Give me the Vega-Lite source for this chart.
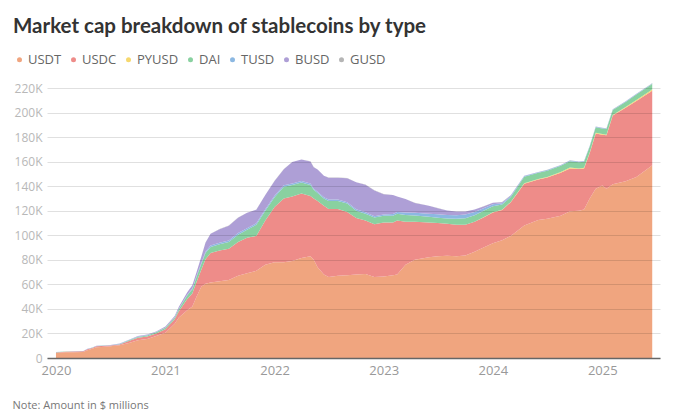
{
  "$schema": "https://vega.github.io/schema/vega-lite/v6.json",
  "width": 613,
  "height": 270,
  "autosize": {"type": "none"},
  "padding": {"left": 47, "top": 88, "right": 20, "bottom": 58},
  "background": "white",
  "config": {"view": {"stroke": null}, "font": "Open Sans"},
  "title": {
    "text": "Market cap breakdown of stablecoins by type",
    "anchor": "start",
    "frame": "group",
    "dx": -34,
    "offset": 16,
    "font": "Lato",
    "fontSize": 20.5,
    "fontWeight": "bold",
    "color": "#333333"
  },
  "datasets": {
    "coins": [
      {"coin": "USDT", "rank": 1},
      {"coin": "USDC", "rank": 2},
      {"coin": "PYUSD", "rank": 3},
      {"coin": "DAI", "rank": 4},
      {"coin": "TUSD", "rank": 5},
      {"coin": "BUSD", "rank": 6},
      {"coin": "GUSD", "rank": 7}
    ]
  },
  "data": {
    "values": [
      {"d": "2020-01-01", "USDT": 4100, "USDC": 450, "PYUSD": 0, "DAI": 100, "TUSD": 150, "BUSD": 20, "GUSD": 10},
      {"d": "2020-02-01", "USDT": 4600, "USDC": 500, "PYUSD": 0, "DAI": 100, "TUSD": 150, "BUSD": 20, "GUSD": 10},
      {"d": "2020-03-01", "USDT": 4700, "USDC": 550, "PYUSD": 0, "DAI": 120, "TUSD": 160, "BUSD": 30, "GUSD": 10},
      {"d": "2020-04-01", "USDT": 4800, "USDC": 600, "PYUSD": 0, "DAI": 120, "TUSD": 160, "BUSD": 40, "GUSD": 10},
      {"d": "2020-04-15", "USDT": 6400, "USDC": 700, "PYUSD": 0, "DAI": 130, "TUSD": 170, "BUSD": 60, "GUSD": 10},
      {"d": "2020-05-01", "USDT": 7500, "USDC": 700, "PYUSD": 0, "DAI": 140, "TUSD": 180, "BUSD": 80, "GUSD": 10},
      {"d": "2020-05-15", "USDT": 8800, "USDC": 720, "PYUSD": 0, "DAI": 140, "TUSD": 180, "BUSD": 100, "GUSD": 10},
      {"d": "2020-06-01", "USDT": 9000, "USDC": 750, "PYUSD": 0, "DAI": 150, "TUSD": 200, "BUSD": 120, "GUSD": 10},
      {"d": "2020-07-01", "USDT": 9600, "USDC": 500, "PYUSD": 0, "DAI": 160, "TUSD": 200, "BUSD": 150, "GUSD": 10},
      {"d": "2020-08-01", "USDT": 10300, "USDC": 700, "PYUSD": 0, "DAI": 300, "TUSD": 300, "BUSD": 170, "GUSD": 10},
      {"d": "2020-09-01", "USDT": 12300, "USDC": 1500, "PYUSD": 0, "DAI": 600, "TUSD": 350, "BUSD": 200, "GUSD": 10},
      {"d": "2020-10-01", "USDT": 14500, "USDC": 2000, "PYUSD": 0, "DAI": 700, "TUSD": 400, "BUSD": 250, "GUSD": 10},
      {"d": "2020-11-01", "USDT": 15500, "USDC": 2100, "PYUSD": 0, "DAI": 800, "TUSD": 400, "BUSD": 300, "GUSD": 10},
      {"d": "2020-12-01", "USDT": 18000, "USDC": 2000, "PYUSD": 0, "DAI": 900, "TUSD": 300, "BUSD": 400, "GUSD": 10},
      {"d": "2021-01-01", "USDT": 20500, "USDC": 3000, "PYUSD": 0, "DAI": 1100, "TUSD": 300, "BUSD": 700, "GUSD": 20},
      {"d": "2021-02-01", "USDT": 28000, "USDC": 3500, "PYUSD": 0, "DAI": 1300, "TUSD": 350, "BUSD": 1000, "GUSD": 20},
      {"d": "2021-02-15", "USDT": 33000, "USDC": 5000, "PYUSD": 0, "DAI": 1900, "TUSD": 400, "BUSD": 1500, "GUSD": 30},
      {"d": "2021-03-15", "USDT": 39000, "USDC": 9000, "PYUSD": 0, "DAI": 2900, "TUSD": 600, "BUSD": 2000, "GUSD": 50},
      {"d": "2021-04-01", "USDT": 42000, "USDC": 10500, "PYUSD": 0, "DAI": 3500, "TUSD": 700, "BUSD": 2500, "GUSD": 60},
      {"d": "2021-04-15", "USDT": 50000, "USDC": 12000, "PYUSD": 0, "DAI": 4000, "TUSD": 800, "BUSD": 3000, "GUSD": 80},
      {"d": "2021-05-01", "USDT": 58000, "USDC": 14000, "PYUSD": 0, "DAI": 4500, "TUSD": 900, "BUSD": 5000, "GUSD": 100},
      {"d": "2021-05-15", "USDT": 60500, "USDC": 20000, "PYUSD": 0, "DAI": 5000, "TUSD": 1000, "BUSD": 7500, "GUSD": 100},
      {"d": "2021-06-01", "USDT": 61500, "USDC": 24000, "PYUSD": 0, "DAI": 5000, "TUSD": 1200, "BUSD": 9500, "GUSD": 100},
      {"d": "2021-07-01", "USDT": 62500, "USDC": 25000, "PYUSD": 0, "DAI": 5200, "TUSD": 1300, "BUSD": 11000, "GUSD": 100},
      {"d": "2021-08-01", "USDT": 63500, "USDC": 25500, "PYUSD": 0, "DAI": 5500, "TUSD": 1300, "BUSD": 12000, "GUSD": 100},
      {"d": "2021-09-01", "USDT": 67000, "USDC": 27500, "PYUSD": 0, "DAI": 6000, "TUSD": 1300, "BUSD": 12500, "GUSD": 100},
      {"d": "2021-10-01", "USDT": 69000, "USDC": 29000, "PYUSD": 0, "DAI": 6500, "TUSD": 1300, "BUSD": 12500, "GUSD": 100},
      {"d": "2021-11-01", "USDT": 71000, "USDC": 28500, "PYUSD": 0, "DAI": 9000, "TUSD": 1300, "BUSD": 11000, "GUSD": 100},
      {"d": "2021-12-01", "USDT": 76000, "USDC": 36000, "PYUSD": 0, "DAI": 8000, "TUSD": 1300, "BUSD": 11500, "GUSD": 100},
      {"d": "2022-01-01", "USDT": 78000, "USDC": 45000, "PYUSD": 0, "DAI": 8000, "TUSD": 1300, "BUSD": 12000, "GUSD": 100},
      {"d": "2022-02-01", "USDT": 78000, "USDC": 52000, "PYUSD": 0, "DAI": 9500, "TUSD": 1300, "BUSD": 13000, "GUSD": 100},
      {"d": "2022-03-01", "USDT": 79000, "USDC": 52500, "PYUSD": 0, "DAI": 9500, "TUSD": 1200, "BUSD": 17500, "GUSD": 100},
      {"d": "2022-04-01", "USDT": 81500, "USDC": 52500, "PYUSD": 0, "DAI": 9000, "TUSD": 1200, "BUSD": 17500, "GUSD": 100},
      {"d": "2022-05-01", "USDT": 83000, "USDC": 49000, "PYUSD": 0, "DAI": 9000, "TUSD": 1200, "BUSD": 18000, "GUSD": 100},
      {"d": "2022-05-12", "USDT": 80000, "USDC": 50000, "PYUSD": 0, "DAI": 7000, "TUSD": 1000, "BUSD": 17500, "GUSD": 100},
      {"d": "2022-05-25", "USDT": 74000, "USDC": 54000, "PYUSD": 0, "DAI": 6500, "TUSD": 1000, "BUSD": 18000, "GUSD": 100},
      {"d": "2022-06-15", "USDT": 68000, "USDC": 56000, "PYUSD": 0, "DAI": 6000, "TUSD": 1000, "BUSD": 17500, "GUSD": 100},
      {"d": "2022-07-01", "USDT": 66000, "USDC": 55500, "PYUSD": 0, "DAI": 6500, "TUSD": 1100, "BUSD": 17800, "GUSD": 100},
      {"d": "2022-08-01", "USDT": 67000, "USDC": 54500, "PYUSD": 0, "DAI": 6500, "TUSD": 1100, "BUSD": 17800, "GUSD": 100},
      {"d": "2022-09-01", "USDT": 67500, "USDC": 51500, "PYUSD": 0, "DAI": 6800, "TUSD": 1200, "BUSD": 19500, "GUSD": 100},
      {"d": "2022-10-01", "USDT": 68000, "USDC": 46000, "PYUSD": 0, "DAI": 6000, "TUSD": 1200, "BUSD": 22000, "GUSD": 100},
      {"d": "2022-11-01", "USDT": 68500, "USDC": 43500, "PYUSD": 0, "DAI": 5500, "TUSD": 1200, "BUSD": 22500, "GUSD": 100},
      {"d": "2022-12-01", "USDT": 66000, "USDC": 43000, "PYUSD": 0, "DAI": 5500, "TUSD": 1000, "BUSD": 21000, "GUSD": 100},
      {"d": "2023-01-01", "USDT": 66500, "USDC": 44000, "PYUSD": 0, "DAI": 5500, "TUSD": 1000, "BUSD": 16500, "GUSD": 100},
      {"d": "2023-02-01", "USDT": 67500, "USDC": 43000, "PYUSD": 0, "DAI": 5500, "TUSD": 1300, "BUSD": 15500, "GUSD": 100},
      {"d": "2023-02-15", "USDT": 68000, "USDC": 44000, "PYUSD": 0, "DAI": 5500, "TUSD": 1500, "BUSD": 12500, "GUSD": 100},
      {"d": "2023-03-15", "USDT": 76000, "USDC": 35000, "PYUSD": 0, "DAI": 5500, "TUSD": 2000, "BUSD": 11000, "GUSD": 100},
      {"d": "2023-04-15", "USDT": 80000, "USDC": 31000, "PYUSD": 0, "DAI": 5200, "TUSD": 2100, "BUSD": 8000, "GUSD": 100},
      {"d": "2023-06-01", "USDT": 82000, "USDC": 28500, "PYUSD": 0, "DAI": 4500, "TUSD": 2500, "BUSD": 6500, "GUSD": 100},
      {"d": "2023-07-01", "USDT": 83000, "USDC": 27000, "PYUSD": 0, "DAI": 4300, "TUSD": 2800, "BUSD": 5000, "GUSD": 100},
      {"d": "2023-08-01", "USDT": 83300, "USDC": 26000, "PYUSD": 0, "DAI": 4300, "TUSD": 3000, "BUSD": 3500, "GUSD": 100},
      {"d": "2023-09-01", "USDT": 83000, "USDC": 25500, "PYUSD": 50, "DAI": 4900, "TUSD": 2900, "BUSD": 3000, "GUSD": 100},
      {"d": "2023-10-01", "USDT": 83500, "USDC": 25000, "PYUSD": 50, "DAI": 5300, "TUSD": 3000, "BUSD": 2500, "GUSD": 100},
      {"d": "2023-11-01", "USDT": 86500, "USDC": 24500, "PYUSD": 100, "DAI": 5300, "TUSD": 2500, "BUSD": 2000, "GUSD": 100},
      {"d": "2023-12-01", "USDT": 90000, "USDC": 24500, "PYUSD": 150, "DAI": 5300, "TUSD": 2000, "BUSD": 1500, "GUSD": 100},
      {"d": "2024-01-01", "USDT": 93500, "USDC": 25000, "PYUSD": 200, "DAI": 5000, "TUSD": 1500, "BUSD": 1200, "GUSD": 100},
      {"d": "2024-02-01", "USDT": 96000, "USDC": 24500, "PYUSD": 250, "DAI": 4300, "TUSD": 1000, "BUSD": 900, "GUSD": 100},
      {"d": "2024-03-01", "USDT": 99500, "USDC": 27500, "PYUSD": 200, "DAI": 4000, "TUSD": 800, "BUSD": 600, "GUSD": 100},
      {"d": "2024-04-15", "USDT": 108000, "USDC": 34000, "PYUSD": 300, "DAI": 5300, "TUSD": 600, "BUSD": 200, "GUSD": 100},
      {"d": "2024-06-01", "USDT": 112500, "USDC": 33000, "PYUSD": 400, "DAI": 5000, "TUSD": 500, "BUSD": 100, "GUSD": 100},
      {"d": "2024-07-01", "USDT": 113500, "USDC": 33500, "PYUSD": 400, "DAI": 5200, "TUSD": 500, "BUSD": 100, "GUSD": 100},
      {"d": "2024-08-15", "USDT": 116000, "USDC": 35000, "PYUSD": 600, "DAI": 5000, "TUSD": 500, "BUSD": 100, "GUSD": 100},
      {"d": "2024-09-15", "USDT": 119500, "USDC": 35000, "PYUSD": 700, "DAI": 5200, "TUSD": 500, "BUSD": 50, "GUSD": 100},
      {"d": "2024-10-15", "USDT": 120000, "USDC": 34000, "PYUSD": 500, "DAI": 5000, "TUSD": 500, "BUSD": 50, "GUSD": 100},
      {"d": "2024-11-01", "USDT": 121000, "USDC": 33500, "PYUSD": 500, "DAI": 4900, "TUSD": 500, "BUSD": 50, "GUSD": 100},
      {"d": "2024-11-20", "USDT": 130000, "USDC": 37000, "PYUSD": 500, "DAI": 4800, "TUSD": 500, "BUSD": 50, "GUSD": 100},
      {"d": "2024-12-10", "USDT": 138000, "USDC": 45000, "PYUSD": 500, "DAI": 4500, "TUSD": 500, "BUSD": 50, "GUSD": 100},
      {"d": "2025-01-01", "USDT": 140500, "USDC": 41500, "PYUSD": 500, "DAI": 4500, "TUSD": 500, "BUSD": 50, "GUSD": 100},
      {"d": "2025-01-15", "USDT": 138000, "USDC": 43500, "PYUSD": 500, "DAI": 4500, "TUSD": 500, "BUSD": 50, "GUSD": 100},
      {"d": "2025-02-05", "USDT": 141500, "USDC": 56000, "PYUSD": 500, "DAI": 4000, "TUSD": 500, "BUSD": 50, "GUSD": 100},
      {"d": "2025-03-20", "USDT": 144000, "USDC": 60000, "PYUSD": 600, "DAI": 4000, "TUSD": 500, "BUSD": 50, "GUSD": 100},
      {"d": "2025-04-25", "USDT": 147500, "USDC": 62000, "PYUSD": 700, "DAI": 4500, "TUSD": 500, "BUSD": 50, "GUSD": 100},
      {"d": "2025-06-12", "USDT": 156000, "USDC": 61000, "PYUSD": 900, "DAI": 4500, "TUSD": 500, "BUSD": 50, "GUSD": 100},
      {"d": "2025-06-17", "USDT": 157000, "USDC": 61000, "PYUSD": 900, "DAI": 4500, "TUSD": 500, "BUSD": 50, "GUSD": 100}
    ]
  },
  "transform": [
    {"fold": ["USDT", "USDC", "PYUSD", "DAI", "TUSD", "BUSD", "GUSD"], "as": ["coin", "value"]},
    {"lookup": "coin", "from": {"data": {"name": "coins"}, "key": "coin", "fields": ["rank"]}}
  ],
  "mark": {"type": "area", "interpolate": "linear", "clip": false, "opacity": 1},
  "encoding": {
    "x": {
      "field": "d",
      "type": "temporal",
      "scale": {"domain": [{"year": 2019, "month": 12, "date": 2}, {"year": 2025, "month": 7, "date": 13}]},
      "axis": {
        "format": "%Y",
        "tickCount": {"interval": "year", "step": 1},
        "grid": false,
        "ticks": false,
        "domainColor": "#666666",
        "domainWidth": 1.5,
        "labelColor": "#999999",
        "labelFontSize": 13,
        "labelPadding": 6,
        "labelFont": "Open Sans",
        "zindex": 2,
        "title": "Note: Amount in $ millions",
        "titleX": -35,
        "titleY": 47,
        "titleAlign": "left",
        "titleAnchor": "start",
        "titleBaseline": "middle",
        "titleFontSize": 11,
        "titleFontWeight": "normal",
        "titleColor": "#777777",
        "titleFont": "Open Sans"
      }
    },
    "y": {
      "field": "value",
      "type": "quantitative",
      "stack": "zero",
      "scale": {"domain": [0, 220000], "nice": false},
      "axis": {
        "title": null,
        "values": [0, 20000, 40000, 60000, 80000, 100000, 120000, 140000, 160000, 180000, 200000, 220000],
        "labelExpr": "datum.value == 0 ? '0' : (datum.value / 1000) + 'K'",
        "domain": false,
        "ticks": false,
        "gridColor": "#000000",
        "gridOpacity": 0.12,
        "labelColor": "#b8b8b8",
        "labelFontSize": 12,
        "labelPadding": 5,
        "labelFont": "Open Sans",
        "zindex": 1
      }
    },
    "order": {"field": "rank", "type": "quantitative"},
    "color": {
      "field": "coin",
      "type": "nominal",
      "scale": {
        "domain": ["USDT", "USDC", "PYUSD", "DAI", "TUSD", "BUSD", "GUSD"],
        "range": ["#F0A57F", "#EE8C89", "#F6D86E", "#89D1A0", "#8CB8E2", "#AE9FD6", "#B5B5B5"]
      },
      "legend": {
        "orient": "none",
        "legendX": -34,
        "legendY": -35,
        "direction": "horizontal",
        "title": null,
        "symbolType": "circle",
        "symbolSize": 25,
        "symbolOpacity": 1,
        "symbolStrokeWidth": 0,
        "labelFontSize": 13,
        "labelColor": "#666666",
        "labelFont": "Open Sans",
        "labelOffset": 2,
        "columnPadding": 5
      }
    }
  }
}
